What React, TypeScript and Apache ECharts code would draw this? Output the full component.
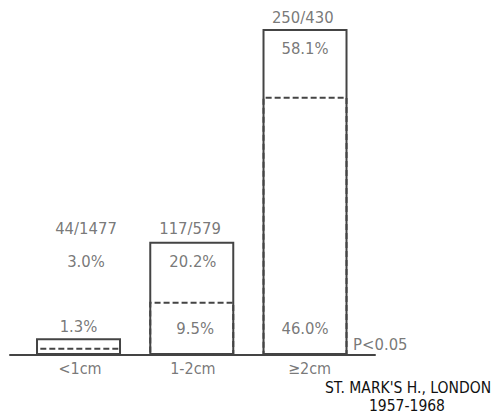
import React, { useEffect, useRef } from "react";
import * as echarts from "echarts";

const categories = ["<1cm", "1-2cm", "≥2cm"];
const totalPct = [3.0, 20.2, 58.1];
const innerPct = [1.3, 9.5, 46.0];
const ratioLabels = ["44/1477", "117/579", "250/430"];
const totalLabels = ["3.0%", "20.2%", "58.1%"];
const innerLabels = ["1.3%", "9.5%", "46.0%"];
const pValue = "P<0.05";
const footnote = ["ST. MARK'S H., LONDON", "1957-1968"];

const FONT = "'DejaVu Sans Condensed', 'Liberation Sans Narrow', sans-serif";
const LINE = "#444";
const TEXT = "#555";

export default function App() {
  const ref = useRef<HTMLDivElement>(null);
  useEffect(() => {
    if (!ref.current) return;
    const chart = echarts.init(ref.current, undefined, { renderer: "svg" });

    const textPoints: any[] = [
      [0.066, 22.6, ratioLabels[0]],
      [0.066, 16.6, totalLabels[0]],
      [0.0, 5.0, innerLabels[0]],
      [0.985, 22.6, ratioLabels[1]],
      [1.01, 16.6, totalLabels[1]],
      [1.03, 4.8, innerLabels[1]],
      [1.98, 60.2, ratioLabels[2]],
      [2.0, 54.7, totalLabels[2]],
      [2.0, 4.8, innerLabels[2]],
      [2.665, 1.8, pValue],
    ];
    const catPoints = [
      [0.013, 0, categories[0]],
      [1.01, 0, categories[1]],
      [2.04, 0, categories[2]],
    ];

    chart.setOption({
      animation: false,
      grid: { left: 10, right: 119, top: 18.3, bottom: 63 },
      xAxis: {
        type: "value",
        min: -0.605,
        max: 2.618,
        axisLine: { show: true, onZero: false, lineStyle: { color: LINE, width: 2 } },
        axisTick: { show: false },
        axisLabel: { show: false },
        splitLine: { show: false },
      },
      yAxis: {
        type: "value",
        min: 0,
        max: 60,
        show: false,
      },
      series: [
        {
          type: "bar",
          barWidth: 85,
          barGap: "-100%",
          data: totalPct.map((v, i) => [i, v]),
          itemStyle: { color: "#fff", borderColor: LINE, borderWidth: 2 },
          z: 2,
        },
        {
          type: "bar",
          barWidth: 85,
          barGap: "-100%",
          data: innerPct.map((v, i) => [i, v]),
          itemStyle: {
            color: "rgba(0,0,0,0)",
            borderColor: LINE,
            borderWidth: 2,
            borderType: [6, 3],
          },
          z: 3,
        },
        {
          type: "scatter",
          symbolSize: 0,
          clip: false,
          data: textPoints,
          label: {
            show: true,
            position: "inside",
            formatter: (p: any) => p.value[2],
            color: TEXT,
            fontFamily: FONT,
            fontSize: 16.5,
          },
          z: 5,
        },
        {
          type: "scatter",
          symbolSize: 0,
          clip: false,
          data: catPoints,
          label: {
            show: true,
            position: "bottom",
            distance: 5,
            formatter: (p: any) => p.value[2],
            color: TEXT,
            fontFamily: FONT,
            fontSize: 16,
          },
          z: 5,
        },
      ],
      graphic: [
        {
          type: "text",
          x: 408,
          y: 387.5,
          style: {
            text: footnote[0],
            fill: "#111",
            font: `15.5px ${FONT}`,
            lineHeight: 15.5,
            align: "center",
            verticalAlign: "middle",
          },
        },
        {
          type: "text",
          x: 407,
          y: 405.5,
          style: {
            text: footnote[1],
            fill: "#111",
            font: `15.5px ${FONT}`,
            lineHeight: 15.5,
            align: "center",
            verticalAlign: "middle",
          },
        },
      ],
    });
    return () => chart.dispose();
  }, []);
  return <div ref={ref} style={{ width: 494, height: 418, position: "absolute", left: 0, top: 0 }} />;
}
